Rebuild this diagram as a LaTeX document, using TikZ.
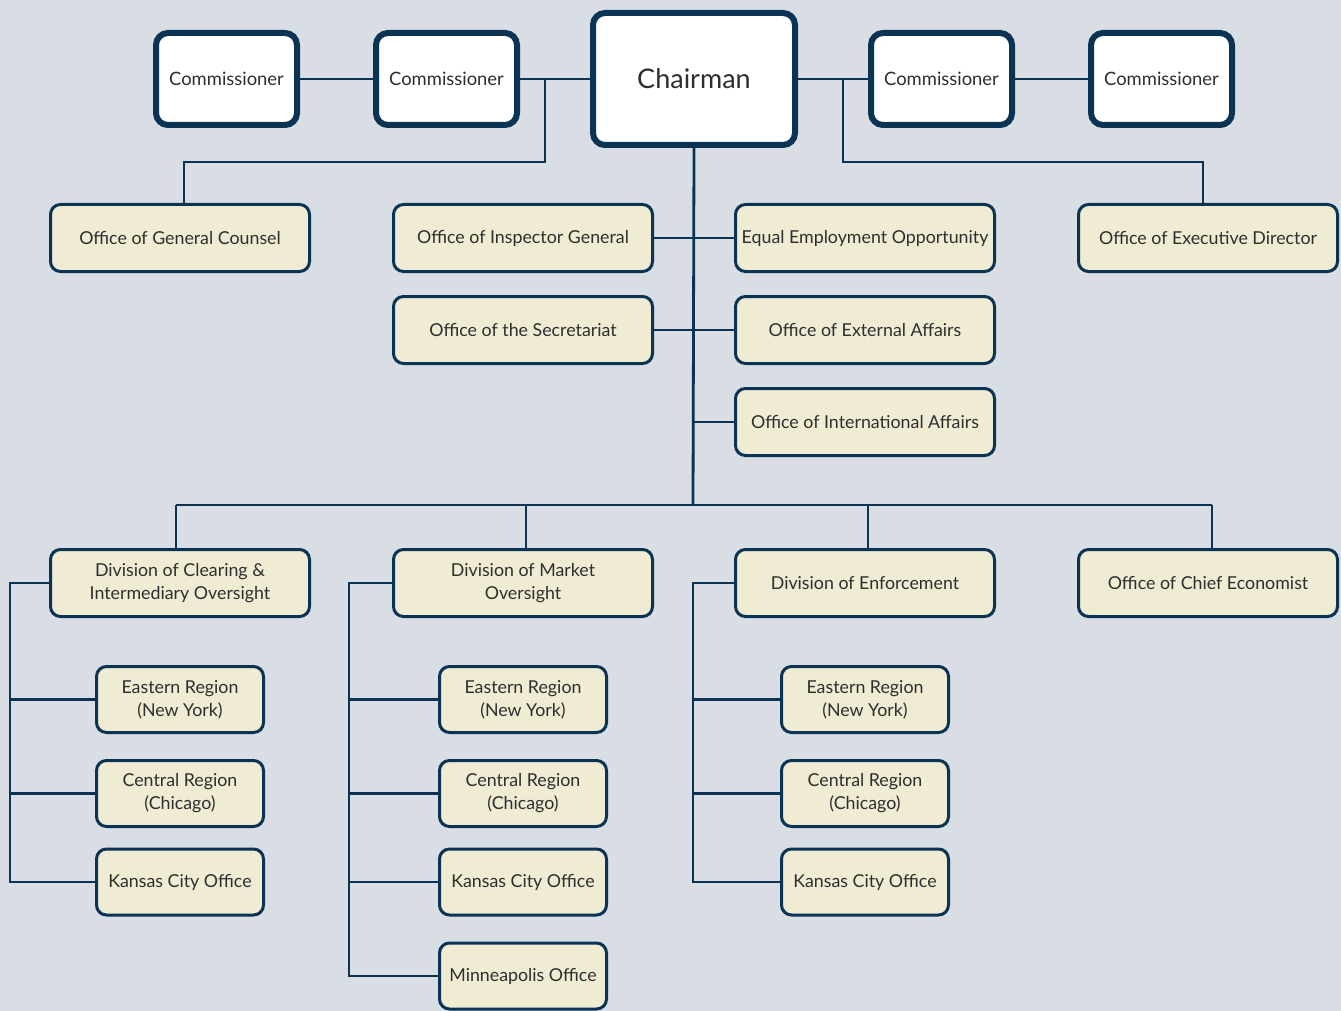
\documentclass[tikz,border=0pt]{standalone}
\usepackage{fontspec}
\setmainfont{Lato}
\definecolor{bg}{HTML}{D9DDE4}
\definecolor{navy}{HTML}{0B3454}
\definecolor{beige}{HTML}{F0EBD3}
\definecolor{txt}{HTML}{2E2E2E}
\begin{document}
\begin{tikzpicture}[x=1pt,y=-1pt,
  comm/.style={draw=navy,line width=6pt,fill=white,rounded corners=12pt,minimum width=141pt,minimum height=92pt,inner sep=0pt,text=txt,font=\fontsize{18.4}{22}\selectfont},
  chair/.style={comm,minimum width=202pt,minimum height=132pt,font=\fontsize{27}{31}\selectfont},
  office/.style={draw=navy,line width=3pt,fill=beige,rounded corners=10pt,minimum width=259pt,minimum height=67pt,inner sep=0pt,align=center,text=txt,font=\fontsize{17.8}{23}\selectfont},
  subof/.style={office,minimum width=167pt,minimum height=66pt},
  conn/.style={draw=navy,line width=2.8pt}]
\fill[bg] (0,0) rectangle (1341,1011);
\useasboundingbox (0,0) rectangle (1341,1011);
% top row
\node[comm] (c1) at (226.5,79) {Commissioner};
\node[comm] (c2) at (446.5,79) {Commissioner};
\node[chair] (ch) at (694,79) {Chairman};
\node[comm] (c3) at (941.5,79) {Commissioner};
\node[comm] (c4) at (1161.5,79) {Commissioner};
% offices
\node[office] (ogc) at (180,238) {Office of General Counsel};
\node[office] (oig) at (523,238) {Office of Inspector General};
\node[office] (eeo) at (865,238) {Equal Employment Opportunity};
\node[office] (oed) at (1208,238) {Office of Executive Director};
\node[office] (sec) at (523,330) {Office of the Secretariat};
\node[office] (ext) at (865,330) {Office of External Affairs};
\node[office] (intl) at (865,422) {Office of International Affairs};
% divisions
\node[office] (d1) at (180,583) {Division of Clearing \&\\Intermediary Oversight};
\node[office] (d2) at (523,583) {Division of Market\\Oversight};
\node[office] (d3) at (865,583) {Division of Enforcement};
\node[office] (d4) at (1208,583) {Office of Chief Economist};
% sub offices
\foreach \c/\x in {1/180,2/523,3/865}{
  \node[subof] (er\c) at (\x,699.5) {Eastern Region\\(New York)};
  \node[subof] (cr\c) at (\x,793.5) {Central Region\\(Chicago)};
  \node[subof] (kc\c) at (\x,882) {Kansas City Office};
}
\node[subof] (mn2) at (523,976) {Minneapolis Office};
% coordinates
\coordinate (jl) at (545,79);
\coordinate (jr) at (843,79);
\coordinate (bl) at (545,162);
\coordinate (br) at (843,162);
\coordinate (ogcT) at (184,162);
\coordinate (oedT) at (1203,162);
\coordinate (spine) at (693,505);
\coordinate (bus1) at (176,505);
\coordinate (bus2) at (526,505);
\coordinate (bus3) at (868,505);
\coordinate (bus4) at (1212,505);
\coordinate (v1) at (10,583);
\coordinate (v2) at (349,583);
\coordinate (v3) at (693,583);
% connectors
\begin{scope}[conn]
\draw (c1.east) -- (c2.west);
\draw (c2.east) -- (ch.west);
\draw (ch.east) -- (c3.west);
\draw (c3.east) -- (c4.west);
\draw (jl) -- (bl) -- (ogcT) -- (ogcT |- ogc.north);
\draw (jr) -- (br) -- (oedT) -- (oedT |- oed.north);
\draw (ch.south) -- (spine);
\draw (oig.east) -- (eeo.west);
\draw (sec.east) -- (ext.west);
\draw (spine |- intl.west) -- (intl.west);
\draw (bus1) -- (bus4);
\draw (bus1) -- (bus1 |- d1.north);
\draw (bus2) -- (bus2 |- d2.north);
\draw (bus3) -- (bus3 |- d3.north);
\draw (bus4) -- (bus4 |- d4.north);
\draw (d1.west) -- (v1) |- (kc1.west);
\draw (v1 |- er1.west) -- (er1.west);
\draw (v1 |- cr1.west) -- (cr1.west);
\draw (d2.west) -- (v2) |- (mn2.west);
\draw (v2 |- er2.west) -- (er2.west);
\draw (v2 |- cr2.west) -- (cr2.west);
\draw (v2 |- kc2.west) -- (kc2.west);
\draw (d3.west) -- (v3) |- (kc3.west);
\draw (v3 |- er3.west) -- (er3.west);
\draw (v3 |- cr3.west) -- (cr3.west);
\end{scope}
\end{tikzpicture}
\end{document}
